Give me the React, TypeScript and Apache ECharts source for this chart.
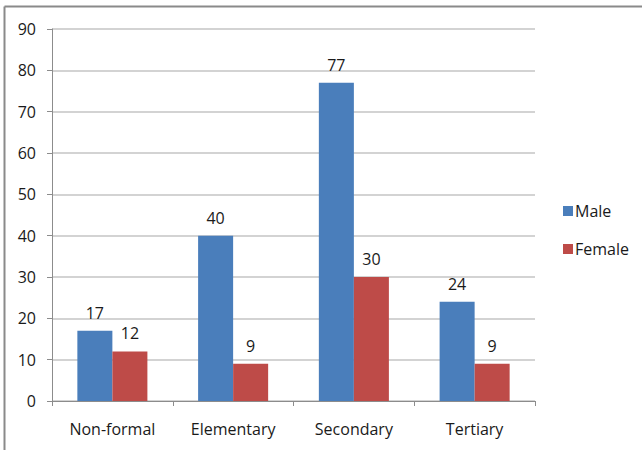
import React, { useEffect, useRef } from "react";
import * as echarts from "echarts";

const categories = ["Non-formal", "Elementary", "Secondary", "Tertiary"];
const maleValues = [17, 40, 77, 24];
const femaleValues = [12, 9, 30, 9];
const seriesNames = ["Male", "Female"];

const FONT = "'Open Sans', 'Noto Sans', sans-serif";

export default function App() {
  const ref = useRef<HTMLDivElement>(null);

  useEffect(() => {
    if (!ref.current) return;
    const chart = echarts.init(ref.current, undefined, { renderer: "svg" });
    const labelStyle = {
      show: true,
      position: "top" as const,
      distance: 10,
      color: "#1a1a1a",
      fontSize: 16,
      fontFamily: FONT,
    };
    chart.setOption({
      animation: false,
      backgroundColor: "#ffffff",
      grid: { left: 52, top: 29, right: 107, bottom: 49, containLabel: false },
      legend: {
        orient: "vertical",
        left: 558,
        top: 198,
        itemWidth: 10,
        itemHeight: 10,
        itemGap: 22,
        icon: "rect",
        textStyle: { fontSize: 16, fontFamily: FONT, color: "#1a1a1a", padding: [0, 0, 0, -3] },
        data: seriesNames,
      },
      xAxis: {
        type: "category",
        data: categories,
        axisLine: { lineStyle: { color: "#8c8c8c", width: 1 } },
        axisTick: { show: true, alignWithLabel: false, length: 5, lineStyle: { color: "#8c8c8c" } },
        axisLabel: { fontSize: 16, fontFamily: FONT, color: "#1a1a1a", margin: 20 },
      },
      yAxis: {
        type: "value",
        min: 0,
        max: 90,
        interval: 10,
        axisLine: { show: true, lineStyle: { color: "#8c8c8c", width: 1 } },
        axisTick: { show: true, length: 5, lineStyle: { color: "#8c8c8c" } },
        axisLabel: { fontSize: 16, fontFamily: FONT, color: "#1a1a1a", margin: 16 },
        splitLine: { lineStyle: { color: "#c4c4c4", width: 1.5 } },
      },
      series: [
        {
          name: seriesNames[0],
          type: "bar",
          data: maleValues,
          barGap: "0%",
          barCategoryGap: "42%",
          itemStyle: { color: "#4a7ebb" },
          label: labelStyle,
        },
        {
          name: seriesNames[1],
          type: "bar",
          data: femaleValues,
          barGap: "0%",
          barCategoryGap: "42%",
          itemStyle: { color: "#be4b48" },
          label: labelStyle,
        },
      ],
      graphic: [
        {
          type: "line",
          shape: { x1: 4.5, y1: 6.5, x2: 642, y2: 6.5 },
          style: { stroke: "#8a8a8a", lineWidth: 2 },
        },
        {
          type: "line",
          shape: { x1: 4.5, y1: 6.5, x2: 4.5, y2: 450 },
          style: { stroke: "#8a8a8a", lineWidth: 2 },
        },
      ],
    });
    return () => chart.dispose();
  }, []);

  return (
    <div
      ref={ref}
      style={{ width: 642, height: 450, position: "fixed", left: 0, top: 0 }}
    />
  );
}
